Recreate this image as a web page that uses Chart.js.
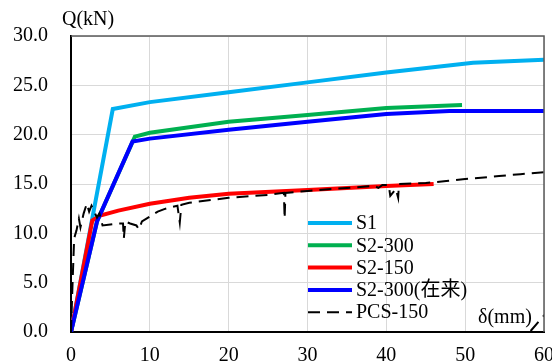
<!DOCTYPE html>
<html>
<head>
<meta charset="utf-8">
<script src="https://cdn.jsdelivr.net/npm/chart.js@4"></script>
<style>
  html, body { margin: 0; padding: 0; background: #fff; }
  canvas { display: block; }
</style>
</head>
<body>
<canvas id="chart" width="552" height="363"></canvas>
<script>
// ===== load-displacement curves =====
const LABELS = ['S1', 'S2-300', 'S2-150', 'S2-300(在来)', 'PCS-150'];
const COLORS = ['#00b0f0', '#00b050', '#ff0000', '#0000ff', '#000000'];

const S1_X = [0, 5.3, 10, 20, 30, 40, 51, 60];
const S1_Y = [0, 22.6, 23.3, 24.3, 25.3, 26.3, 27.3, 27.6];

const S2_300_X = [0, 3.3, 8.1, 10, 20, 30, 40, 49.6];
const S2_300_Y = [0, 11.2, 19.8, 20.2, 21.3, 22.0, 22.7, 23.0];

const S2_150_X = [0, 2.7, 3.7, 6, 10, 15, 20, 30, 40, 46];
const S2_150_Y = [0, 11.3, 11.8, 12.3, 13.0, 13.6, 14.0, 14.4, 14.8, 15.0];

const S2_300C_X = [0, 3.3, 7.8, 10, 20, 30, 40, 48, 60];
const S2_300C_Y = [0, 11.2, 19.3, 19.6, 20.5, 21.3, 22.1, 22.4, 22.4];

const PCS_X = [0, 0.2, 0.4, 0.7, 1.0, 1.2, 1.6, 2.0, 2.3, 2.6, 3.0, 3.3, 3.6, 4.0, 5.0, 6.0, 6.6, 6.7, 6.9, 7.5,
  8.3, 8.6, 9.0, 10, 11, 12, 13.5, 13.8, 14, 15, 20, 25, 27, 27.1, 27.2, 30, 35, 38.5, 39, 39.5, 40.3, 40.5,
  41.2, 41.5, 41.6, 45, 47.6, 50, 54.3, 57, 60, 60, 58.3, 61];
const PCS_Y = [0, 5, 9.5, 10.3, 11.5, 10.6, 12.0, 13.0, 12.2, 12.8, 12.1, 11.6, 12.0, 10.8, 10.9, 11.0, 11.0, 9.5, 11.2, 11.0,
  10.8, 10.4, 11.2, 11.7, 12.2, 12.5, 12.8, 11.1, 12.9, 13.1, 13.6, 13.9, 14.1, 11.5, 14.1, 14.3, 14.6, 14.8, 14.6, 14.9, 14.9, 13.8,
  14.5, 13.6, 15.0, 15.1, 15.3, 15.5, 15.8, 16.0, 16.2, null, 0.1, 2.6];

const X_TICKS = [0, 10, 20, 30, 40, 50, 60];
const Y_TICKS = [0, 5, 10, 15, 20, 25, 30];

const FONT = '"Liberation Serif", "Times New Roman", "Noto Sans CJK JP", serif';

function pts(xs, ys) {
  return xs.map((x, i) => ({ x: x, y: ys[i] }));
}

const SERIES = [
  pts(S1_X, S1_Y),
  pts(S2_300_X, S2_300_Y),
  pts(S2_150_X, S2_150_Y),
  pts(S2_300C_X, S2_300C_Y),
  pts(PCS_X, PCS_Y)
];
// lower order is drawn on top
const DRAW_ORDER = [4, 3, 2, 1, 0];

// frame, axis titles and in-plot legend
const decorPlugin = {
  id: 'decor',
  afterDraw(chart) {
    const { ctx, chartArea: a } = chart;
    ctx.save();
    // top / right frame
    ctx.strokeStyle = '#595959';
    ctx.lineWidth = 1.5;
    ctx.beginPath();
    ctx.moveTo(a.left, a.top);
    ctx.lineTo(a.right, a.top);
    ctx.lineTo(a.right, a.bottom);
    ctx.stroke();

    ctx.fillStyle = '#000';
    ctx.font = '20px ' + FONT;
    ctx.textBaseline = 'middle';
    ctx.textAlign = 'left';
    ctx.fillText('Q(kN)', 62, 20);
    ctx.fillText('δ(mm)', 478, 318);

    // legend
    chart.data.datasets.forEach((ds, i) => {
      const y = 223 + i * 22.3;
      ctx.strokeStyle = ds.borderColor;
      ctx.lineWidth = ds.borderWidth;
      ctx.setLineDash(ds.borderDash || []);
      ctx.beginPath();
      ctx.moveTo(308, y);
      ctx.lineTo(352, y);
      ctx.stroke();
      ctx.setLineDash([]);
      ctx.fillStyle = '#000';
      ctx.fillText(ds.label, 356, y + 1);
    });
    ctx.restore();
  }
};

new Chart(document.getElementById('chart'), {
  type: 'line',
  data: {
    datasets: SERIES.map((d, i) => ({
      label: LABELS[i],
      data: d,
      borderColor: COLORS[i],
      backgroundColor: COLORS[i],
      borderWidth: i === 4 ? 2 : 4,
      borderDash: i === 4 ? [12, 7] : [],
      pointRadius: 0,
      tension: 0,
      fill: false,
      order: DRAW_ORDER[i]
    }))
  },
  options: {
    responsive: false,
    animation: false,
    layout: { padding: { top: 36, right: 8, left: 0, bottom: 0 } },
    plugins: {
      legend: { display: false },
      tooltip: { enabled: false }
    },
    scales: {
      x: {
        type: 'linear',
        min: 0, max: 60,
        afterBuildTicks: s => { s.ticks = X_TICKS.map(v => ({ value: v })); },
        afterFit: s => { s.height = 31; s.paddingLeft = 0; s.paddingRight = 0; },
        ticks: { color: '#000', font: { family: FONT, size: 20 }, padding: 12, maxRotation: 0 },
        grid: { color: '#d9d9d9', lineWidth: 1, drawTicks: false },
        border: { color: '#000', width: 2 }
      },
      y: {
        type: 'linear',
        min: 0, max: 30,
        afterBuildTicks: s => { s.ticks = Y_TICKS.map(v => ({ value: v })); },
        afterFit: s => { s.width = 71; s.paddingTop = 0; s.paddingBottom = 0; },
        ticks: { color: '#000', font: { family: FONT, size: 20 }, padding: 23, callback: v => v.toFixed(1) },
        grid: { color: '#d9d9d9', lineWidth: 1, drawTicks: false },
        border: { color: '#000', width: 2 }
      }
    }
  },
  plugins: [decorPlugin]
});
</script>
</body>
</html>
